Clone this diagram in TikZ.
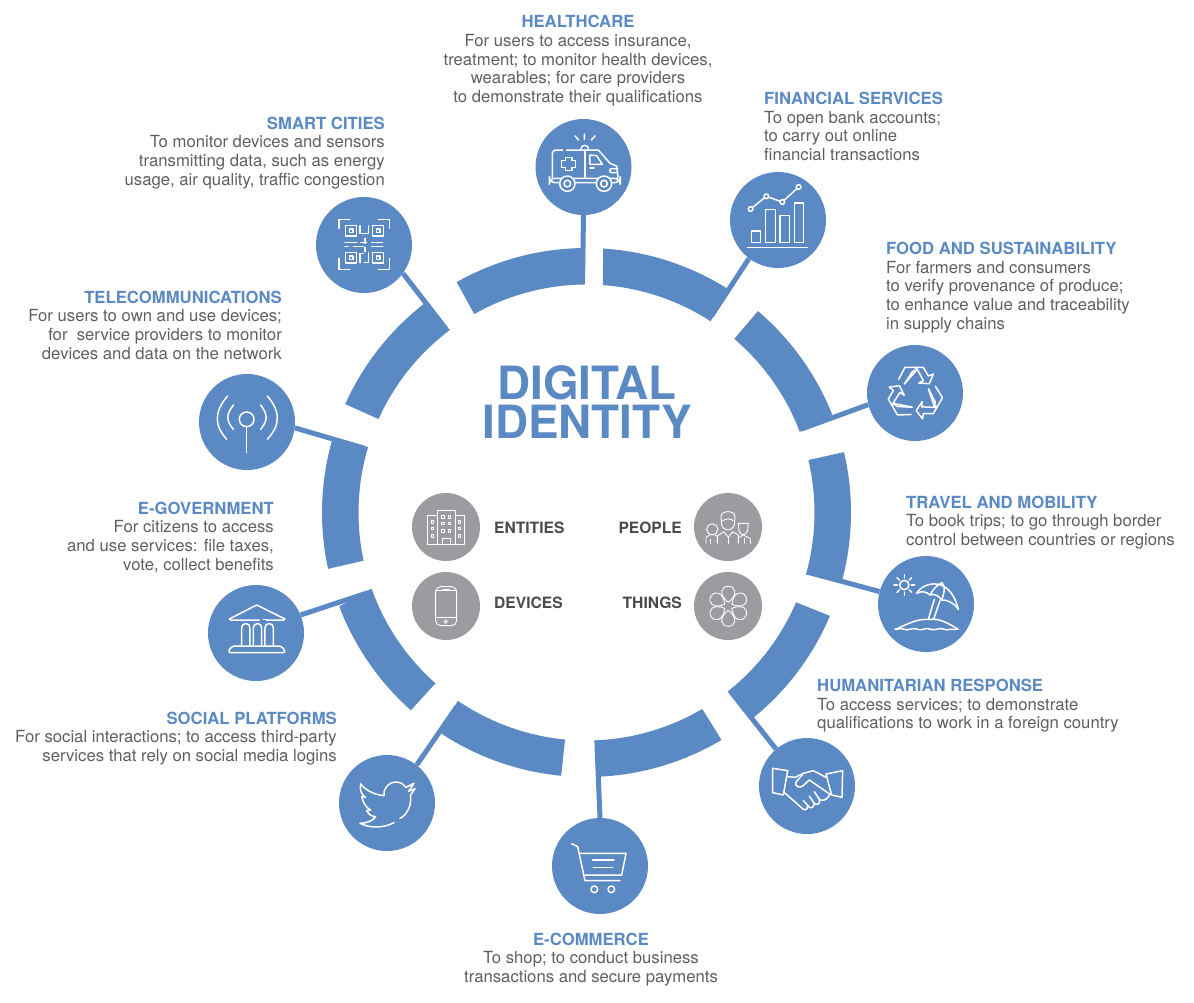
\documentclass[tikz,border=0pt]{standalone}
\usepackage{fontspec}
\setmainfont{TeX Gyre Heros}
\definecolor{bl}{HTML}{5B89C3}
\definecolor{tx}{HTML}{5E5F61}
\definecolor{lb}{HTML}{4A4A4C}
\definecolor{gr}{HTML}{9B9C9F}
\newcommand{\seg}[4]{\fill[bl] plot[domain=#1:#3,samples=40] ({586.5+264.5*cos(\x)},{512.5-264.5*sin(\x)}) -- plot[domain=#4:#2,samples=40] ({586.5+228*cos(\x)},{512.5-228*sin(\x)}) -- cycle;}
\newcommand{\hd}[1]{{\bfseries\color{bl}\fontsize{16.7}{18.7}\selectfont #1}}
\tikzset{
 hub/.style={circle,fill=bl,minimum size=96pt,inner sep=0pt},
 ghub/.style={circle,fill=gr,minimum size=68pt,inner sep=0pt},
 conn/.style={draw=bl,line width=5pt},
 txt/.style={inner sep=0pt,text=tx,font=\fontsize{16.7}{18.7}\selectfont},
 lbl/.style={inner sep=0pt,text=lb,font=\bfseries\fontsize{15.6}{18}\selectfont},
 ico/.style={draw=white,line width=1.5pt,line cap=round,line join=round},
 gico/.style={draw=white,line width=.9pt,line cap=round,line join=round},
}
\begin{document}
\begin{tikzpicture}[x=1pt,y=-1pt]
\useasboundingbox (0,0) rectangle (1194,1002);
% ring
\seg{119.4}{119.5}{90.3}{90.4}
\seg{86.4}{85.9}{57.9}{57.0}
\seg{49.6}{49.6}{21.7}{20.7}
\seg{13.2}{13.3}{-15.0}{-15.8}
\seg{-23.0}{-23.2}{-51.0}{-51.8}
\seg{-59.3}{-59.5}{-87.1}{-88.1}
\seg{236.8}{235.6}{264.5}{264.6}
\seg{200.8}{199.5}{228.4}{228.5}
\seg{164}{163.3}{192.3}{192.2}
\seg{128}{126.8}{155.8}{155.8}
% hubs
\node[hub] (health) at (583.5,167) {};
\node[hub] (fin) at (778,220) {};
\node[hub] (food) at (915,393) {};
\node[hub] (travel) at (926,604) {};
\node[hub] (human) at (807,786) {};
\node[hub] (ecom) at (600,866) {};
\node[hub] (social) at (387,803) {};
\node[hub] (egov) at (256,633) {};
\node[hub] (tele) at (247,422) {};
\node[hub] (smart) at (364,245) {};
% connector feet on the ring
\coordinate (chealth) at (582.5,280);
\coordinate (cfin) at (711,316.6);
\coordinate (cfood) at (801.5,429);
\coordinate (ctravel) at (811,573.1);
\coordinate (chuman) at (731,692);
\coordinate (cecom) at (597,746);
\coordinate (csocial) at (457,706.4);
\coordinate (cegov) at (368,592.7);
\coordinate (ctele) at (364,448.1);
\coordinate (csmart) at (446,329);
\draw[conn] (chealth) -- (health.south);
\draw[conn] (cfin) -- (fin.233);
\draw[conn] (cfood) -- (food.194);
\draw[conn] (ctravel) -- (travel.165);
\draw[conn] (chuman) -- (human.130);
\draw[conn] (cecom) -- (ecom.north);
\draw[conn] (csocial) -- (social.52);
\draw[conn] (cegov) -- (egov.22);
\draw[conn] (ctele) -- (tele.353);
\draw[conn] (csmart) -- (smart.324);
% centre
\node[inner sep=0pt,text=bl,font=\bfseries\fontsize{45.8}{39.3}\selectfont,align=center] (title) at (587,402) {DIGITAL\\IDENTITY};
\node[ghub] (ent) at (446,527) {};
\node[ghub] (peo) at (728,527) {};
\node[ghub] (dev) at (446,606) {};
\node[ghub] (thi) at (728,606) {};
\node[lbl,anchor=west] (lent) at (494,527.5) {ENTITIES};
\node[lbl,anchor=east] (lpeo) at (682,527.5) {PEOPLE};
\node[lbl,anchor=west] (ldev) at (494,602.5) {DEVICES};
\node[lbl,anchor=east] (lthi) at (682,602.5) {THINGS};
% texts
\node[txt,align=center,anchor=north] (thealth) at (578,15.2) {\hd{HEALTHCARE}\\For users to access insurance,\\treatment; to monitor health devices,\\wearables; for care providers\\to demonstrate their qualifications};
\node[txt,align=left,anchor=north west] (tfin) at (764,92) {\hd{FINANCIAL SERVICES}\\To open bank accounts;\\to carry out online\\financial transactions};
\node[txt,align=left,anchor=north west] (tfood) at (886,242) {\hd{FOOD AND SUSTAINABILITY}\\For farmers and consumers\\to verify provenance of produce;\\to enhance value and traceability\\in supply chains};
\node[txt,align=left,anchor=north west] (ttravel) at (906,495.5) {\hd{TRAVEL AND MOBILITY}\\To book trips; to go through border\\control between countries or regions};
\node[txt,align=left,anchor=north west] (thuman) at (817,679) {\hd{HUMANITARIAN RESPONSE}\\To access services; to demonstrate\\qualifications to work in a foreign country};
\node[txt,align=center,anchor=north] (tecom) at (591,932.5) {\hd{E-COMMERCE}\\To shop; to conduct business\\transactions and secure payments};
\node[txt,align=right,anchor=north east] (tsocial) at (337,711.5) {\hd{SOCIAL PLATFORMS}\\For social interactions; to access third-party\\services that rely on social media logins};
\node[txt,align=right,anchor=north east] (tegov) at (274,501.7) {\hd{E-GOVERNMENT}\\For citizens to access\\and use services: file taxes,\\vote, collect benefits};
\node[txt,align=right,anchor=north east] (ttele) at (282,290.5) {\hd{TELECOMMUNICATIONS}\\For users to own and use devices;\\for\ \ service providers to monitor\\devices and data on the network};
\node[txt,align=right,anchor=north east] (tsmart) at (385,116.5) {\hd{SMART CITIES}\\To monitor devices and sensors\\transmitting data, such as energy\\usage, air quality, traffic congestion};
% ambulance
\begin{scope}[shift={(520,110)},x=.3333pt,y=-.3333pt]
\draw[ico] (128,120) -- (104,120) -- (97,128) -- (97,205);
\draw[ico] (140,120) -- (235,120) -- (270,160) -- (290,168) -- (294,200) -- (290,207);
\draw[ico] (195,120) -- (195,205);
\draw[ico] (210,135) -- (230,137) -- (247,163) -- (210,163) -- cycle;
\draw[ico] (210,174) -- (222,174);
\draw[ico] (136,142) -- (156,142) -- (156,152) -- (166,152) -- (166,172) -- (156,172) -- (156,182) -- (136,182) -- (136,172) -- (125,172) -- (125,152) -- (136,152) -- cycle;
\draw[ico] (182,118) arc[start angle=180,end angle=360,radius=12];
\draw[ico] (193,72) -- (193,88) (165,78) -- (176,90) (225,78) -- (214,90);
\draw[ico] (275,176) -- (293,176) (275,188) -- (293,188) (275,176) arc[start angle=270,end angle=90,radius=6];
\draw[ico,rounded corners=6pt] (88,205) rectangle (301,218);
\filldraw[ico,fill=bl] (142,221) circle[radius=23];
\draw[ico] (142,221) circle[radius=10];
\filldraw[ico,fill=bl] (252,221) circle[radius=23];
\draw[ico] (252,221) circle[radius=10];
\end{scope}
% chart
\begin{scope}[shift={(520,110)},x=.3333pt,y=-.3333pt]
\draw[ico] (692,297) -- (739,259) -- (787,276) -- (836,231);
\foreach \p in {(692,297),(739,259),(787,276),(836,231)} \filldraw[ico,fill=bl] \p circle[radius=7];
\draw[ico] (695,363) rectangle (722,398);
\draw[ico] (737,298) rectangle (766,398);
\draw[ico] (780,317) rectangle (808,398);
\draw[ico] (823,279) rectangle (851,398);
\draw[ico] (682,412) -- (863,412);
\end{scope}
% recycle
\begin{scope}[shift={(860,340)},x=.3333pt,y=-.3333pt]
\foreach \r in {0,120,240}
\draw[ico,rotate around={\r:(165,160)}] (116,118) -- (135,82) -- (190,82) -- (205,108) -- (220,102) -- (208,131) -- (176,129) -- (190,122) -- (172,88) -- (165,83) (172,88) -- (157,95) -- (133,132) -- cycle;
\end{scope}
% beach
\begin{scope}[shift={(750,560)},x=.3333pt,y=-.3333pt]
\draw[ico] (463,75) circle[radius=14];
\foreach \a in {0,45,...,315} \draw[ico] ({463+21*cos(\a)},{75+21*sin(\a)}) -- ({463+31*cos(\a)},{75+31*sin(\a)});
\draw[ico] (500,100) .. controls (520,65) and (600,45) .. (625,148);
\draw[ico] (500,100) .. controls (515,92) and (530,95) .. (540,105) .. controls (550,100) and (565,105) .. (575,120) .. controls (590,118) and (615,130) .. (625,148);
\draw[ico] (540,105) .. controls (548,90) and (560,75) .. (576,68) .. controls (590,80) and (580,105) .. (575,120);
\draw[ico] (553,118) -- (535,178) (570,122) -- (551,178);
\draw[ico] (435,208) .. controls (460,200) and (490,178) .. (530,178) -- (551,178) .. controls (580,178) and (610,200) .. (625,208);
\draw[ico] (440,208) .. controls (455,200) and (465,214) .. (480,208) .. controls (495,200) and (505,214) .. (520,208) .. controls (535,200) and (545,214) .. (560,208) .. controls (575,200) and (585,214) .. (600,208) -- (620,208);
\end{scope}
% handshake
\begin{scope}[shift={(750,560)},x=.3333pt,y=-.3333pt]
\draw[ico] (68,625) -- (113,632) -- (100,705) -- (68,698) -- cycle;
\draw[ico] (228,642) -- (278,632) -- (276,712) -- (245,705) -- cycle;
\draw[ico] (111,650) -- (135,652) -- (160,640);
\draw[ico] (100,695) -- (160,748) .. controls (170,752) and (175,745) .. (172,735) (172,735) -- (180,743) .. controls (190,745) and (195,735) .. (190,726) (190,726) -- (197,733) .. controls (208,735) and (212,725) .. (206,715) (206,715) -- (212,720) .. controls (225,725) and (235,712) .. (240,703);
\draw[ico] (228,652) -- (190,632) -- (160,640) -- (137,668) .. controls (135,680) and (150,685) .. (158,678) -- (178,660) -- (240,703);
\draw[ico] (160,722) -- (172,735) (178,708) -- (190,726) (193,695) -- (206,715);
\end{scope}
% cart
\begin{scope}[shift={(540,810)},x=.3333pt,y=-.3333pt]
\draw[ico] (95,101) -- (113,110) -- (135,212) -- (240,212);
\draw[ico] (120,130) -- (258,130) -- (245,195) -- (135,195);
\draw[ico] (158,150) -- (222,150) (160,172) -- (218,172);
\draw[ico] (163,238) circle[radius=10] (214,238) circle[radius=10];
\end{scope}
% twitter
\begin{scope}[shift={(200,580)},x=.3333pt,y=-.3333pt]
\draw[ico] (482,612) .. controls (500,635) and (530,645) .. (552,647) .. controls (548,610) and (595,590) .. (618,622) -- (642,610) -- (626,634) -- (645,626) -- (632,645) .. controls (635,680) and (620,705) .. (600,715);
\draw[ico] (482,612) .. controls (478,630) and (485,645) .. (497,652) -- (485,650) .. controls (490,670) and (500,685) .. (512,690) -- (500,692) .. controls (505,702) and (515,710) .. (527,710) .. controls (520,722) and (500,730) .. (480,730) .. controls (510,745) and (550,745) .. (582,728);
\end{scope}
% bank
\begin{scope}[shift={(200,580)},x=.3333pt,y=-.3333pt]
\draw[ico] (88,117) -- (170,75) -- (255,117) -- (250,120) -- (200,120) (178,120) -- (92,120) -- (88,117);
\foreach \x in {125,160,195} \draw[ico] (\x,195) -- (\x,143) arc[start angle=180,end angle=360,radius=12.5] -- (\x+25,195);
\draw[ico,rounded corners=3pt] (95,198) -- (245,198) -- (258,218) -- (83,218) -- cycle;
\draw[ico] (190,118) -- (200,118);
\end{scope}
% antenna
\begin{scope}[shift={(190,190)},x=.3333pt,y=-.3333pt]
\draw[ico] (170,688) circle[radius=22];
\draw[ico] (170,710) -- (170,788);
\draw[ico] (130,645) .. controls (108,675) and (108,690) .. (130,718);
\draw[ico] (113,618) .. controls (72,665) and (72,705) .. (110,748);
\draw[ico] (212,645) .. controls (234,675) and (234,690) .. (212,718);
\draw[ico] (232,618) .. controls (272,665) and (272,705) .. (232,748);
\end{scope}
% qr
\begin{scope}[shift={(190,190)},x=.3333pt,y=-.3333pt]
\draw[ico] (447,115) -- (447,88) -- (480,88) (565,88) -- (598,88) -- (598,115) (447,205) -- (447,238) -- (480,238) (598,205) -- (598,238) -- (565,238);
\foreach \x/\y in {467/107,548/107,467/188,548/188} {\draw[ico] (\x,\y) rectangle (\x+32,\y+31); \draw[ico] (\x+11,\y+10) rectangle (\x+22,\y+21);}
\draw[ico] (510,107) -- (510,130) -- (535,130) -- (535,107);
\draw[ico] (465,157) -- (500,157) (512,157) -- (530,157) (545,157) -- (578,157);
\draw[ico] (465,170) -- (475,170) (490,170) -- (520,170) (545,170) -- (578,170);
\draw[ico] (525,145) -- (525,160) (525,172) -- (525,185);
\draw[ico] (510,218) -- (510,190) -- (520,190) (535,188) -- (535,218) -- (523,218);
\end{scope}
% gray icons
\begin{scope}[shift={(400,480)},x=.3333pt,y=-.3333pt]
\draw[gico] (112,92) rectangle (165,192) (82,107) rectangle (112,192) (165,107) rectangle (192,192) (128,175) rectangle (150,192);
\foreach \x in {128,148} \foreach \y in {110,130,152} \draw[gico] (\x-4,\y-4) rectangle (\x+4,\y+4);
\foreach \x in {97,178} \foreach \y in {125,145,168} \draw[gico] (\x-4,\y-4) rectangle (\x+4,\y+4);
\draw[gico,rounded corners=5pt] (107,320) rectangle (170,437);
\draw[gico] (107,332) -- (170,332) (107,412) -- (170,412) (128,327) -- (148,327);
\draw[gico] (137,425) circle[radius=5];
% people
\draw[gico] (963,110) .. controls (963,90) and (1005,90) .. (1005,110) -- (1003,135) .. controls (995,155) and (973,155) .. (965,135) -- cycle;
\draw[gico] (968,122) .. controls (980,115) and (990,115) .. (1000,122);
\draw[gico] (937,148) circle[radius=17];
\draw[gico] (1015,130) -- (1045,130) -- (1043,152) .. controls (1035,168) and (1022,168) .. (1017,152) -- cycle;
\draw[gico] (918,190) -- (918,172) -- (930,165) (945,165) -- (952,170) (952,190) -- (952,168) -- (972,155) -- (985,172) -- (998,155) -- (1015,165) -- (1015,190);
\draw[gico] (1018,172) -- (1030,165) -- (1050,175) -- (1052,190);
\draw[gico] (932,190) -- (932,178) (985,172) -- (985,190) (1033,175) -- (1033,190);
% flower
\foreach \r in {0,60,...,300}
\draw[gico,shift={(985,379)},rotate=\r] (0,-12) .. controls (-30,-35) and (-22,-60) .. (0,-60) .. controls (22,-60) and (30,-35) .. (0,-12);
\end{scope}
\end{tikzpicture}
\end{document}
